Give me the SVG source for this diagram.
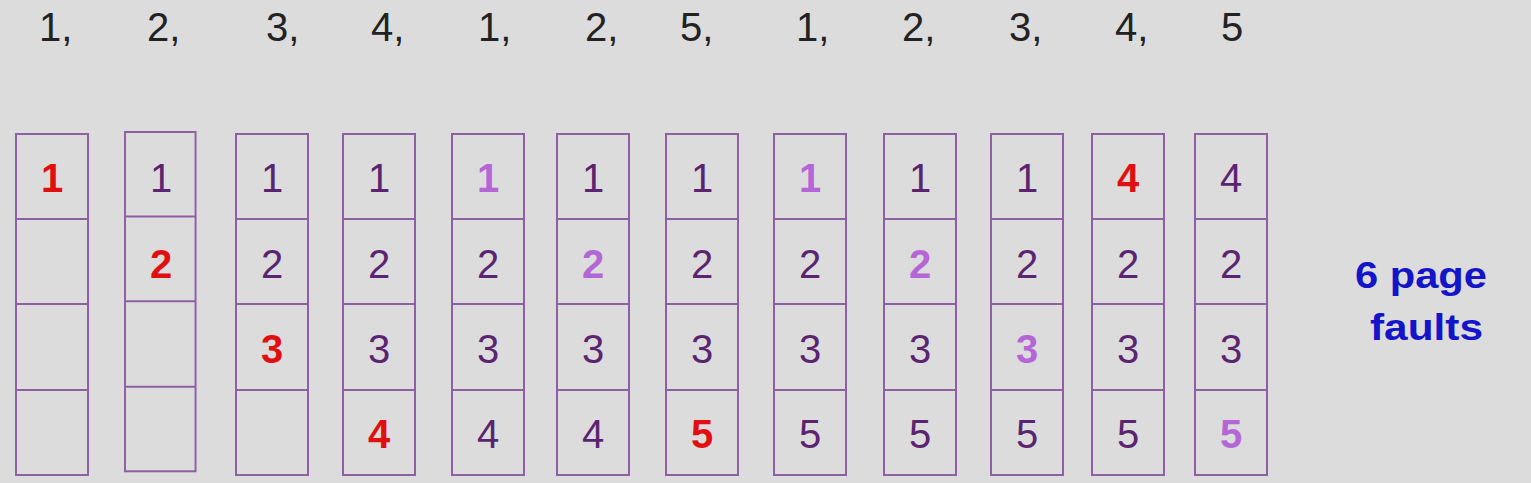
<svg xmlns="http://www.w3.org/2000/svg" width="1531" height="483" viewBox="0 0 1531 483">
<style>
.bg{fill:#dcdcdc}
.cell{fill:none;stroke:#8f5fa3;stroke-width:2}
text{font-family:"Liberation Sans",Arial,sans-serif}
.ref{font-size:40px;fill:#222}
.d{font-size:40px;text-anchor:middle;fill:#5b2470}
.r{fill:#e01010;font-weight:bold}
.h{fill:#b466d6;font-weight:bold}
.pf{font-size:37px;font-weight:bold;fill:#1414c8}
</style>
<defs>
<g id="col4">
<rect class="cell" x="0" y="0" width="72" height="341"/>
<line class="cell" x1="0" y1="85" x2="72" y2="85"/>
<line class="cell" x1="0" y1="170" x2="72" y2="170"/>
<line class="cell" x1="0" y1="256" x2="72" y2="256"/>
</g>
</defs>
<rect class="bg" x="0" y="0" width="1531" height="483"/>
<g id="reference-string">
<text class="ref" x="39" y="41">1,</text>
<text class="ref" x="147" y="41">2,</text>
<text class="ref" x="266" y="41">3,</text>
<text class="ref" x="371" y="41">4,</text>
<text class="ref" x="478" y="41">1,</text>
<text class="ref" x="585" y="41">2,</text>
<text class="ref" x="680" y="41">5,</text>
<text class="ref" x="796" y="41">1,</text>
<text class="ref" x="902" y="41">2,</text>
<text class="ref" x="1009" y="41">3,</text>
<text class="ref" x="1115" y="41">4,</text>
<text class="ref" x="1221" y="41">5</text>
</g>
<g id="frame1" transform="translate(16,134)"><use href="#col4"/>
<text class="d r" x="36" y="58">1</text></g>
<g id="frame2" transform="translate(125,132)"><use href="#col4" transform="scale(0.98,0.995)"/>
<text class="d" x="36" y="60">1</text><text class="d r" x="36" y="146">2</text></g>
<g id="frame3" transform="translate(236,134)"><use href="#col4"/>
<text class="d" x="36" y="58">1</text><text class="d" x="36" y="144">2</text><text class="d r" x="36" y="229">3</text></g>
<g id="frame4" transform="translate(343,134)"><use href="#col4"/>
<text class="d" x="36" y="58">1</text><text class="d" x="36" y="144">2</text><text class="d" x="36" y="229">3</text><text class="d r" x="36" y="314">4</text></g>
<g id="frame5" transform="translate(452,134)"><use href="#col4"/>
<text class="d h" x="36" y="58">1</text><text class="d" x="36" y="144">2</text><text class="d" x="36" y="229">3</text><text class="d" x="36" y="314">4</text></g>
<g id="frame6" transform="translate(557,134)"><use href="#col4"/>
<text class="d" x="36" y="58">1</text><text class="d h" x="36" y="144">2</text><text class="d" x="36" y="229">3</text><text class="d" x="36" y="314">4</text></g>
<g id="frame7" transform="translate(666,134)"><use href="#col4"/>
<text class="d" x="36" y="58">1</text><text class="d" x="36" y="144">2</text><text class="d" x="36" y="229">3</text><text class="d r" x="36" y="314">5</text></g>
<g id="frame8" transform="translate(774,134)"><use href="#col4"/>
<text class="d h" x="36" y="58">1</text><text class="d" x="36" y="144">2</text><text class="d" x="36" y="229">3</text><text class="d" x="36" y="314">5</text></g>
<g id="frame9" transform="translate(884,134)"><use href="#col4"/>
<text class="d" x="36" y="58">1</text><text class="d h" x="36" y="144">2</text><text class="d" x="36" y="229">3</text><text class="d" x="36" y="314">5</text></g>
<g id="frame10" transform="translate(991,134)"><use href="#col4"/>
<text class="d" x="36" y="58">1</text><text class="d" x="36" y="144">2</text><text class="d h" x="36" y="229">3</text><text class="d" x="36" y="314">5</text></g>
<g id="frame11" transform="translate(1092,134)"><use href="#col4"/>
<text class="d r" x="36" y="58">4</text><text class="d" x="36" y="144">2</text><text class="d" x="36" y="229">3</text><text class="d" x="36" y="314">5</text></g>
<g id="frame12" transform="translate(1195,134)"><use href="#col4"/>
<text class="d" x="36" y="58">4</text><text class="d" x="36" y="144">2</text><text class="d" x="36" y="229">3</text><text class="d h" x="36" y="314">5</text></g>
<g id="summary">
<text class="pf" x="1355" y="288" textLength="132" lengthAdjust="spacingAndGlyphs">6 page</text>
<text class="pf" x="1370" y="340" textLength="113" lengthAdjust="spacingAndGlyphs">faults</text>
</g>
</svg>
